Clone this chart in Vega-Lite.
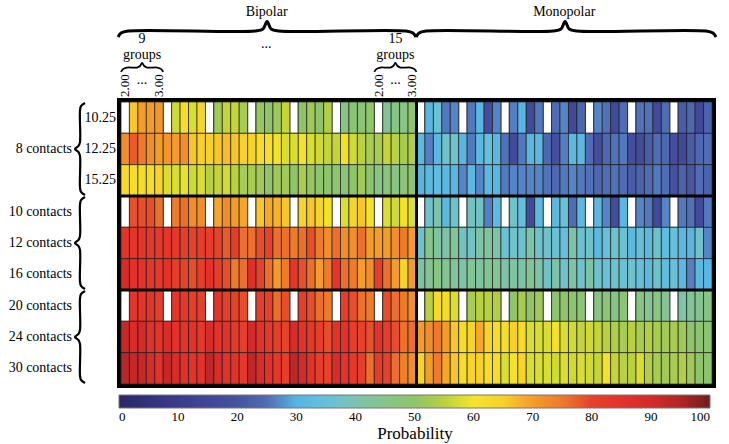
{
 "$schema": "https://vega.github.io/schema/vega-lite/v6.json",
 "width": 595,
 "height": 286,
 "autosize": {"type": "none"},
 "padding": {"left": 119, "top": 100, "right": 15, "bottom": 58},
 "background": "white",
 "config": {"view": {"stroke": "black", "strokeWidth": 4}},
 "layer": [
  {
   "data": {"values": [
    {"ri":0,"v":[null,66,70,70,71, null,57,62,58,64, null,52,56,56,53, null,51,50,52,56, null,50,52,50,54, null,46,48,48,50, null,44,46,46,50, null,31,36,27,29, null,27,31,18,29, null,28,31,17,27, null,25,29,16,24, null,29,26,17,25, null,26,26,17,25, null,22,24,16,23]},
    {"ri":1,"v":[72,78,75,72,70, 71,70,72,66,65, 65,66,67,66,65, 64,62,62,61,58, 58,61,58,57,56, 56,61,57,55,53, 53,56,55,53,54, 32,28,32,37,37, 31,27,32,35,32, 26,17,27,31,32, 24,19,28,32,32, 25,18,24,26,27, 18,17,22,25,24, 18,16,22,24,25]},
    {"ri":2,"v":[63,62,62,62,64, 58,58,59,57,58, 55,56,57,55,53, 53,52,50,52,52, 50,53,51,49,50, 49,48,50,52,49, 46,48,46,48,50, 31,32,33,32,31, 29,32,29,32,31, 27,29,29,29,29, 26,24,27,29,27, 26,24,25,26,25, 22,23,25,27,25, 20,23,21,25,23]},
    {"ri":3,"v":[null,79,79,79,76, null,75,76,72,72, null,69,72,70,69, null,66,69,68,66, null,64,66,64,61, null,58,64,66,61, null,58,57,61,58, null,37,41,32,37, null,38,38,28,33, null,37,35,17,32, null,32,36,25,32, null,32,29,18,31, null,29,27,17,29, null,27,26,16,27]},
    {"ri":4,"v":[84,84,84,83,83, 84,83,81,80,81, 81,80,78,81,76, 76,79,80,76,76, 75,76,79,75,72, 76,72,72,76,70, 70,70,72,75,70, 37,46,42,41,44, 38,38,41,43,41, 36,37,37,41,37, 37,36,35,41,36, 37,32,35,37,36, 32,35,32,37,33, 35,32,31,37,29]},
    {"ri":5,"v":[89,85,85,83,83, 85,81,80,79,81, 85,81,79,75,76, 87,80,76,70,75, 84,79,76,70,75, 84,76,75,70,72, 81,76,70,64,70, 42,44,46,44,43, 41,44,42,44,44, 41,42,41,44,41, 37,41,37,41,37, 41,37,35,37,36, 37,35,32,37,33, 36,32,28,32,31]},
    {"ri":6,"v":[null,84,84,84,81, null,84,83,81,80, null,84,81,80,79, null,81,80,76,79, null,81,79,76,75, null,81,79,76,75, null,79,76,75,72, null,55,63,62,58, null,53,55,55,54, null,50,53,50,52, null,49,50,49,48, null,46,48,46,48, null,46,44,46,44, null,41,43,44,46]},
    {"ri":7,"v":[92,89,90,85,85, 89,85,85,85,83, 89,85,85,83,81, 90,85,83,81,80, 89,85,83,81,79, 85,85,81,80,79, 85,81,79,76,76, 70,72,75,70,66, 62,64,69,64,62, 62,65,62,58,58, 58,61,58,57,56, 57,56,55,54,53, 55,53,54,53,52, 53,52,50,49,48]},
    {"ri":8,"v":[94,92,92,89,85, 92,89,86,85,85, 93,89,85,85,83, 93,89,85,83,81, 93,90,85,81,80, 89,85,83,81,76, 82,80,76,74,72, 64,70,75,69,66, 62,64,65,62,62, 58,61,64,58,58, 58,57,58,57,58, 57,56,61,56,55, 55,58,54,53,52, 53,54,52,50,49]}
   ]},
   "transform": [
    {"flatten": ["v"]},
    {"window": [{"op": "row_number", "as": "ci"}], "groupby": ["ri"]},
    {"bin": {"step": 1, "extent": [1, 71], "nice": false}, "field": "ci", "as": ["x0", "x1"]},
    {"bin": {"step": 1, "extent": [0, 9], "nice": false}, "field": "ri", "as": ["y0", "y1"]}
   ],
   "layer": [
    {
     "mark": {"type": "rect", "fill": "white", "stroke": "#1e1e1e", "strokeWidth": 0.8},
     "encoding": {
      "x": {"field": "x0", "type": "quantitative", "scale": {"domain": [0.763, 71.237], "nice": false, "zero": false}, "axis": null},
      "x2": {"field": "x1"},
      "y": {"field": "y0", "type": "quantitative", "scale": {"domain": [-0.0638, 9.0638], "nice": false, "zero": false, "reverse": true}, "axis": null},
      "y2": {"field": "y1"}
     }
    },
    {
     "transform": [{"filter": "isValid(datum.v)"}],
     "mark": {"type": "rect", "stroke": "#1e1e1e", "strokeWidth": 0.8, "strokeOpacity": 0.85},
     "encoding": {
      "x": {"field": "x0", "type": "quantitative", "scale": {"domain": [0.763, 71.237], "nice": false, "zero": false}, "axis": null},
      "x2": {"field": "x1"},
      "y": {"field": "y0", "type": "quantitative", "scale": {"domain": [-0.0638, 9.0638], "nice": false, "zero": false, "reverse": true}, "axis": null},
      "y2": {"field": "y1"},
      "color": {
       "field": "v", "type": "quantitative",
       "scale": {
        "domain": [0,10,20,25,29,30,35,40,45,50,55,58,60,65,68,70,75,78,80,85,90,95,100],
        "range": ["#2c2768","#3a3b8c","#4552a0","#4f6cb4","#5585c6","#57b3e2","#66c0dc","#7cc3b0","#86c48a","#8fc46a","#b9d140","#dade30","#f3e62a","#f8d02a","#f6b22a","#f39c2a","#ee7a2c","#ea5a2b","#e6412a","#e4322b","#d42a2a","#b02626","#6e1e1e"],
        "interpolate": "rgb"
       },
       "legend": {
        "title": "Probability",
        "orient": "bottom",
        "direction": "horizontal",
        "gradientLength": 591,
        "gradientThickness": 13,
        "gradientStrokeColor": "#777",
        "gradientStrokeWidth": 1,
        "offset": 7,
        "padding": 0,
        "values": [0,10,20,30,40,50,60,70,80,90,100],
        "labelFont": "Liberation Serif",
        "labelFontSize": 13,
        "labelColor": "black",
        "labelAlign": "center",
        "labelOverlap": false,
        "labelOffset": 3,
        "titleOrient": "bottom",
        "titleAnchor": "middle",
        "titleFont": "Liberation Serif",
        "titleFontSize": 17,
        "titleFontWeight": "normal",
        "titleColor": "black",
        "titlePadding": 2
       }
      }
     }
    }
   ]
  },
  {
   "data": {"values": [{"yb": 3}, {"yb": 6}]},
   "mark": {"type": "rule", "stroke": "black", "strokeWidth": 3},
   "encoding": {
    "y": {"field": "yb", "type": "quantitative", "scale": {"domain": [-0.0638, 9.0638], "nice": false, "zero": false, "reverse": true}, "axis": null},
    "x": {"datum": 1, "type": "quantitative", "scale": {"domain": [0.763, 71.237], "nice": false, "zero": false}, "axis": null},
    "x2": {"datum": 71}
   }
  },
  {
   "data": {"values": [{"xb": 36}]},
   "mark": {"type": "rule", "stroke": "black", "strokeWidth": 3},
   "encoding": {
    "x": {"field": "xb", "type": "quantitative", "scale": {"domain": [0.763, 71.237], "nice": false, "zero": false}, "axis": null},
    "y": {"datum": 0, "type": "quantitative", "scale": {"domain": [-0.0638, 9.0638], "nice": false, "zero": false, "reverse": true}, "axis": null},
    "y2": {"datum": 9}
   }
  },
  {
   "data": {"values": [
    {"t": "10.25", "x": 0.41, "y": 0.5},
    {"t": "12.25", "x": 0.41, "y": 1.5},
    {"t": "15.25", "x": 0.41, "y": 2.5},
    {"t": "8 contacts", "x": -4.8, "y": 1.5},
    {"t": "10 contacts", "x": -4.8, "y": 3.5},
    {"t": "12 contacts", "x": -4.8, "y": 4.5},
    {"t": "16 contacts", "x": -4.8, "y": 5.5},
    {"t": "20 contacts", "x": -4.8, "y": 6.5},
    {"t": "24 contacts", "x": -4.8, "y": 7.5},
    {"t": "30 contacts", "x": -4.8, "y": 8.5}
   ]},
   "mark": {"type": "text", "align": "right", "baseline": "middle", "font": "Liberation Serif", "fontSize": 14, "color": "black"},
   "encoding": {
    "text": {"field": "t"},
    "x": {"field": "x", "type": "quantitative", "scale": {"domain": [0.763, 71.237], "nice": false, "zero": false}, "axis": null},
    "y": {"field": "y", "type": "quantitative", "scale": {"domain": [-0.0638, 9.0638], "nice": false, "zero": false, "reverse": true}, "axis": null}
   }
  },
  {
   "data": {"values": [
    {"t": "Bipolar", "x": 18.25, "y": -2.87},
    {"t": "Monopolar", "x": 53.5, "y": -2.87},
    {"t": "9", "x": 3.5, "y": -2.01},
    {"t": "groups", "x": 3.5, "y": -1.5},
    {"t": "15", "x": 33.5, "y": -2.01},
    {"t": "groups", "x": 33.5, "y": -1.5},
    {"t": "...", "x": 18.2, "y": -1.85},
    {"t": "...", "x": 3.5, "y": -0.7},
    {"t": "...", "x": 33.5, "y": -0.7}
   ]},
   "mark": {"type": "text", "align": "center", "baseline": "middle", "font": "Liberation Serif", "fontSize": 14, "color": "black"},
   "encoding": {
    "text": {"field": "t"},
    "x": {"field": "x", "type": "quantitative", "scale": {"domain": [0.763, 71.237], "nice": false, "zero": false}, "axis": null},
    "y": {"field": "y", "type": "quantitative", "scale": {"domain": [-0.0638, 9.0638], "nice": false, "zero": false, "reverse": true}, "axis": null}
   }
  },
  {
   "data": {"values": [
    {"t": "2.00", "x": 1.5},
    {"t": "3.00", "x": 5.5},
    {"t": "2.00", "x": 31.5},
    {"t": "3.00", "x": 35.5}
   ]},
   "mark": {"type": "text", "align": "left", "baseline": "middle", "angle": 270, "font": "Liberation Serif", "fontSize": 13, "color": "black"},
   "encoding": {
    "text": {"field": "t"},
    "x": {"field": "x", "type": "quantitative", "scale": {"domain": [0.763, 71.237], "nice": false, "zero": false}, "axis": null},
    "y": {"datum": -0.16, "type": "quantitative", "scale": {"domain": [-0.0638, 9.0638], "nice": false, "zero": false, "reverse": true}, "axis": null}
   }
  },
  {
   "data": {"values": [
    {"b":"bip","k":0,"x":0.65,"y":-2.075},{"b":"bip","k":1,"x":1.0,"y":-2.2},{"b":"bip","k":2,"x":1.83,"y":-2.266},{"b":"bip","k":3,"x":16.87,"y":-2.266},{"b":"bip","k":4,"x":17.82,"y":-2.33},{"b":"bip","k":5,"x":18.3,"y":-2.57},{"b":"bip","k":6,"x":18.78,"y":-2.33},{"b":"bip","k":7,"x":19.73,"y":-2.266},{"b":"bip","k":8,"x":34.75,"y":-2.266},{"b":"bip","k":9,"x":35.58,"y":-2.2},{"b":"bip","k":10,"x":35.94,"y":-2.075},
    {"b":"mono","k":0,"x":35.94,"y":-2.075},{"b":"mono","k":1,"x":36.3,"y":-2.2},{"b":"mono","k":2,"x":37.12,"y":-2.266},{"b":"mono","k":3,"x":52.17,"y":-2.266},{"b":"mono","k":4,"x":53.12,"y":-2.33},{"b":"mono","k":5,"x":53.6,"y":-2.57},{"b":"mono","k":6,"x":54.08,"y":-2.33},{"b":"mono","k":7,"x":55.03,"y":-2.266},{"b":"mono","k":8,"x":70.29,"y":-2.266},{"b":"mono","k":9,"x":71.12,"y":-2.2},{"b":"mono","k":10,"x":71.48,"y":-2.075}
   ]},
   "mark": {"type": "line", "interpolate": "catmull-rom", "stroke": "black", "strokeWidth": 3},
   "encoding": {
    "detail": {"field": "b"},
    "order": {"field": "k", "type": "quantitative"},
    "x": {"field": "x", "type": "quantitative", "scale": {"domain": [0.763, 71.237], "nice": false, "zero": false}, "axis": null},
    "y": {"field": "y", "type": "quantitative", "scale": {"domain": [-0.0638, 9.0638], "nice": false, "zero": false, "reverse": true}, "axis": null}
   }
  },
  {
   "data": {"values": [
    {"b":"g9","k":0,"x":1.0,"y":-0.96},{"b":"g9","k":1,"x":1.24,"y":-1.05},{"b":"g9","k":2,"x":1.71,"y":-1.1},{"b":"g9","k":3,"x":2.9,"y":-1.1},{"b":"g9","k":4,"x":3.25,"y":-1.15},{"b":"g9","k":5,"x":3.5,"y":-1.25},{"b":"g9","k":6,"x":3.75,"y":-1.15},{"b":"g9","k":7,"x":4.1,"y":-1.1},{"b":"g9","k":8,"x":5.29,"y":-1.1},{"b":"g9","k":9,"x":5.76,"y":-1.05},{"b":"g9","k":10,"x":6.0,"y":-0.96},
    {"b":"g15","k":0,"x":31.0,"y":-0.96},{"b":"g15","k":1,"x":31.24,"y":-1.05},{"b":"g15","k":2,"x":31.71,"y":-1.1},{"b":"g15","k":3,"x":32.9,"y":-1.1},{"b":"g15","k":4,"x":33.25,"y":-1.15},{"b":"g15","k":5,"x":33.5,"y":-1.25},{"b":"g15","k":6,"x":33.75,"y":-1.15},{"b":"g15","k":7,"x":34.1,"y":-1.1},{"b":"g15","k":8,"x":35.29,"y":-1.1},{"b":"g15","k":9,"x":35.76,"y":-1.05},{"b":"g15","k":10,"x":36.0,"y":-0.96}
   ]},
   "mark": {"type": "line", "interpolate": "catmull-rom", "stroke": "black", "strokeWidth": 1.8},
   "encoding": {
    "detail": {"field": "b"},
    "order": {"field": "k", "type": "quantitative"},
    "x": {"field": "x", "type": "quantitative", "scale": {"domain": [0.763, 71.237], "nice": false, "zero": false}, "axis": null},
    "y": {"field": "y", "type": "quantitative", "scale": {"domain": [-0.0638, 9.0638], "nice": false, "zero": false, "reverse": true}, "axis": null}
   }
  },
  {
   "data": {"values": [
    {"b":"r1","k":0,"x":-3.26,"y":0.03},{"b":"r1","k":1,"x":-3.74,"y":0.13},{"b":"r1","k":2,"x":-3.86,"y":0.29},{"b":"r1","k":3,"x":-3.86,"y":1.28},{"b":"r1","k":4,"x":-4.03,"y":1.4},{"b":"r1","k":5,"x":-4.45,"y":1.5},{"b":"r1","k":6,"x":-4.03,"y":1.6},{"b":"r1","k":7,"x":-3.86,"y":1.72},{"b":"r1","k":8,"x":-3.86,"y":2.71},{"b":"r1","k":9,"x":-3.74,"y":2.87},{"b":"r1","k":10,"x":-3.26,"y":2.97},
    {"b":"r2","k":0,"x":-3.26,"y":3.03},{"b":"r2","k":1,"x":-3.74,"y":3.13},{"b":"r2","k":2,"x":-3.86,"y":3.29},{"b":"r2","k":3,"x":-3.86,"y":4.28},{"b":"r2","k":4,"x":-4.03,"y":4.4},{"b":"r2","k":5,"x":-4.45,"y":4.5},{"b":"r2","k":6,"x":-4.03,"y":4.6},{"b":"r2","k":7,"x":-3.86,"y":4.72},{"b":"r2","k":8,"x":-3.86,"y":5.71},{"b":"r2","k":9,"x":-3.74,"y":5.87},{"b":"r2","k":10,"x":-3.26,"y":5.97},
    {"b":"r3","k":0,"x":-3.26,"y":6.03},{"b":"r3","k":1,"x":-3.74,"y":6.13},{"b":"r3","k":2,"x":-3.86,"y":6.29},{"b":"r3","k":3,"x":-3.86,"y":7.28},{"b":"r3","k":4,"x":-4.03,"y":7.4},{"b":"r3","k":5,"x":-4.45,"y":7.5},{"b":"r3","k":6,"x":-4.03,"y":7.6},{"b":"r3","k":7,"x":-3.86,"y":7.72},{"b":"r3","k":8,"x":-3.86,"y":8.71},{"b":"r3","k":9,"x":-3.74,"y":8.87},{"b":"r3","k":10,"x":-3.26,"y":8.97}
   ]},
   "mark": {"type": "line", "interpolate": "catmull-rom", "stroke": "black", "strokeWidth": 2.2},
   "encoding": {
    "detail": {"field": "b"},
    "order": {"field": "k", "type": "quantitative"},
    "x": {"field": "x", "type": "quantitative", "scale": {"domain": [0.763, 71.237], "nice": false, "zero": false}, "axis": null},
    "y": {"field": "y", "type": "quantitative", "scale": {"domain": [-0.0638, 9.0638], "nice": false, "zero": false, "reverse": true}, "axis": null}
   }
  }
 ]
}
